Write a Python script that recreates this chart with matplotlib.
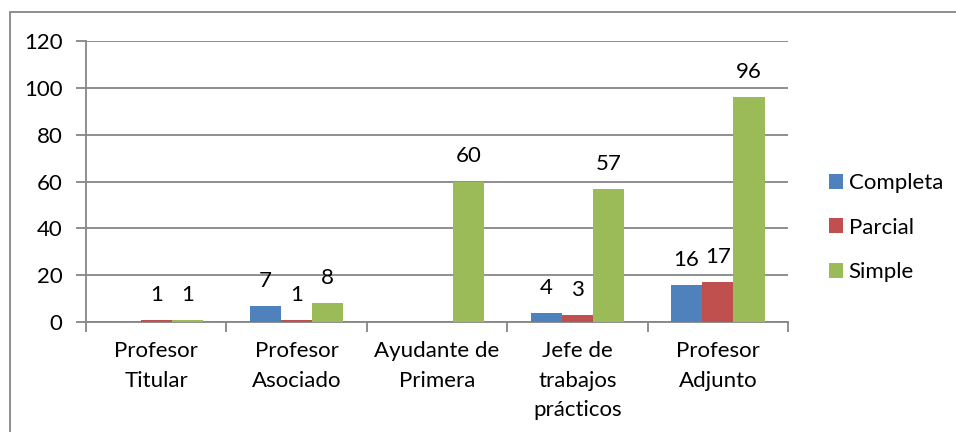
import numpy as np
import matplotlib.pyplot as plt
from matplotlib.patches import Rectangle

plt.rcParams['font.family'] = ['Lato', 'DejaVu Sans']

# data
categories = ["Profesor\nTitular", "Profesor\nAsociado", "Ayudante de\nPrimera",
              "Jefe de\ntrabajos\nprácticos", "Profesor\nAdjunto"]
completa = [np.nan, 7, np.nan, 4, 16]
parcial = [1, 1, np.nan, 3, 17]
simple = [1, 8, 60, 57, 96]

series_names = ["Completa", "Parcial", "Simple"]
colors = ["#4F81BD", "#C0504D", "#9BBB59"]
grid_color = "#868686"
fs = 16

fig = plt.figure(figsize=(9.56, 4.32), dpi=100)
ax = fig.add_axes([86 / 956, 1 - 322 / 432, (788 - 86) / 956, (322 - 41) / 432])

# outer chart border (cropped at right/bottom)
fig.patches.append(Rectangle((10 / 956, -0.2), 2.0, 1.2 - 12 / 432,
                             transform=fig.transFigure, fill=False,
                             edgecolor=grid_color, linewidth=1.3))

x = np.arange(len(categories))
w = 1 / 4.5
for i, (vals, name, col) in enumerate(zip([completa, parcial, simple], series_names, colors)):
    pos = x + (i - 1) * w
    ax.bar(pos, vals, width=w, color=col, label=name, zorder=3)
    for px, v in zip(pos, vals):
        if not np.isnan(v):
            ax.annotate(f"{int(v)}", (px, v), xytext=(0, 18), textcoords="offset points",
                        ha="center", va="center", fontsize=fs, color="black")

ax.set_xlim(-0.5, len(categories) - 0.5)
ax.set_ylim(0, 120)
ax.set_yticks(range(0, 121, 20))
ax.yaxis.grid(True, color=grid_color, linewidth=1.3, zorder=0)
ax.set_axisbelow(True)

ax.set_xticks(np.arange(-0.5, len(categories), 1))
ax.set_xticklabels([])
ax.set_xticks(x, minor=True)
ax.set_xticklabels(categories, minor=True, fontsize=fs, linespacing=1.58)
ax.tick_params(axis="x", which="minor", length=0, pad=14)
ax.tick_params(axis="x", which="major", length=7, width=1.3, color=grid_color)
ax.tick_params(axis="y", length=7, width=1.3, color=grid_color, labelsize=fs, pad=10)

for s in ["top", "right"]:
    ax.spines[s].set_visible(False)
for s in ["left", "bottom"]:
    ax.spines[s].set_color(grid_color)
    ax.spines[s].set_linewidth(1.3)

ax.legend(loc="center left", bbox_to_anchor=(1.058, 0.336), frameon=False,
          fontsize=fs, handlelength=0.65, handleheight=0.65, handletextpad=0.25,
          labelspacing=1.1, borderpad=0, borderaxespad=0)

plt.savefig("out.png", dpi=100)
